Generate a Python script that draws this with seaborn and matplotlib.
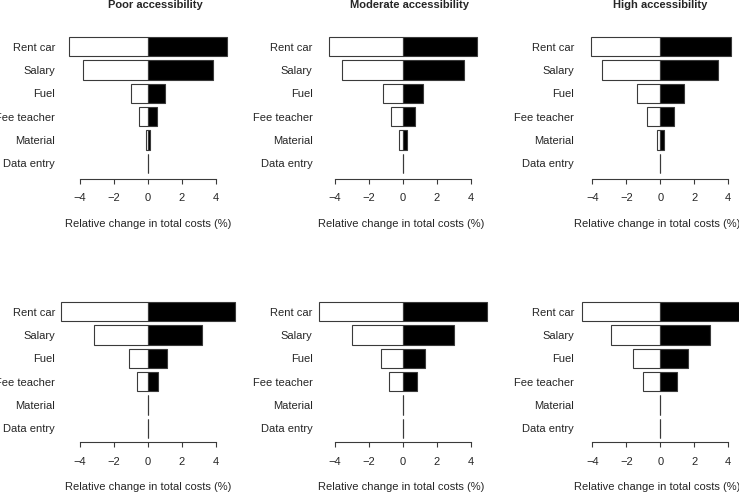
import matplotlib
matplotlib.use("Agg")
import matplotlib.pyplot as plt
import seaborn as sns
import pandas as pd

# cost items, top to bottom
categories = ["Rent car", "Salary", "Fuel", "Fee teacher", "Material", "Data entry"]
titles = ["Poor accessibility", "Moderate accessibility", "High accessibility"]

# relative change in total costs (%) - low / high scenario per panel
poor_top_low = [-4.63, -3.80, -1.00, -0.51, -0.12, 0.0]
poor_top_high = [4.63, 3.80, 1.00, 0.51, 0.10, 0.0]
mod_top_low = [-4.32, -3.59, -1.18, -0.71, -0.20, 0.0]
mod_top_high = [4.35, 3.62, 1.21, 0.72, 0.23, 0.0]
high_top_low = [-4.10, -3.41, -1.39, -0.80, -0.21, 0.0]
high_top_high = [4.14, 3.41, 1.41, 0.82, 0.22, 0.0]

poor_bot_low = [-5.10, -3.20, -1.10, -0.63, 0.0, 0.0]
poor_bot_high = [5.12, 3.20, 1.10, 0.61, 0.0, 0.0]
mod_bot_low = [-4.90, -3.00, -1.29, -0.79, 0.0, 0.0]
mod_bot_high = [4.94, 3.02, 1.31, 0.82, 0.0, 0.0]
high_bot_low = [-4.59, -2.90, -1.59, -1.00, 0.0, 0.0]
high_bot_high = [4.65, 2.92, 1.61, 1.00, 0.0, 0.0]

panels = [
    [(poor_top_low, poor_top_high), (mod_top_low, mod_top_high), (high_top_low, high_top_high)],
    [(poor_bot_low, poor_bot_high), (mod_bot_low, mod_bot_high), (high_bot_low, high_bot_high)],
]

sns.set_style("white")
plt.rcParams["font.family"] = ["Liberation Sans", "DejaVu Sans"]
plt.rcParams["font.size"] = 8

W, H = 739, 494
fig = plt.figure(figsize=(W / 100, H / 100), dpi=100)

# layout in pixels
scale = 17.0           # px per % unit
step = 23.3            # px per bar slot
zeros = [148, 402.7, 660.3]
lims = [5.0, 4.82, 4.59]
first_bar = [46.7, 311.7]
axis_line = [179, 442.3]
title_x = [155.4, 409, 660.3]
xlabel_x = [148.3, 401.5, 657]
edge = "#3a3a3a"

for r in range(2):
    top = first_bar[r] - 0.6 * step
    h = axis_line[r] - top
    for c in range(3):
        left = zeros[c] - lims[c] * scale
        w = 2 * lims[c] * scale
        ax = fig.add_axes([left / W, 1 - (top + h) / H, w / W, h / H])
        low, high = panels[r][c]
        df = pd.DataFrame({"item": categories, "low": low, "high": high})
        sns.barplot(data=df, x="low", y="item", orient="h", color="white",
                    saturation=1, edgecolor=edge, linewidth=0.8, width=0.83,
                    errorbar=None, ax=ax)
        sns.barplot(data=df, x="high", y="item", orient="h", color="black",
                    saturation=1, edgecolor=edge, linewidth=0.8, width=0.83,
                    errorbar=None, ax=ax)
        for p in ax.patches:
            p.set_clip_on(False)
        ax.set_xlim(-lims[c], lims[c])
        ax.set_ylim((axis_line[r] - first_bar[r]) / step, -0.6)
        ax.set_ylabel("")
        ax.set_xticks([-4, -2, 0, 2, 4])
        ax.set_xticklabels(["\u22124", "\u22122", "0", "2", "4"])
        ax.tick_params(axis="x", direction="out", length=3.6, width=0.8,
                       color=edge, pad=6.8, labelsize=8, bottom=True)
        ax.tick_params(axis="y", length=0, pad=5.8, labelsize=8)
        for s in ["top", "right", "left"]:
            ax.spines[s].set_visible(False)
        ax.spines["bottom"].set_bounds(-4, 4)
        ax.spines["bottom"].set_color(edge)
        ax.spines["bottom"].set_linewidth(0.8)
        ax.set_xlabel("Relative change in total costs (%)", fontsize=8, va="center")
        ax.xaxis.set_label_coords((xlabel_x[c] - left) / w, -45 / h)
        ax.patch.set_alpha(0)
        if r == 0:
            fig.text(title_x[c] / W, 1 - 8 / H, titles[c], ha="center",
                     va="baseline", fontweight="bold", fontsize=8)

fig.savefig("out.png", dpi=100)
